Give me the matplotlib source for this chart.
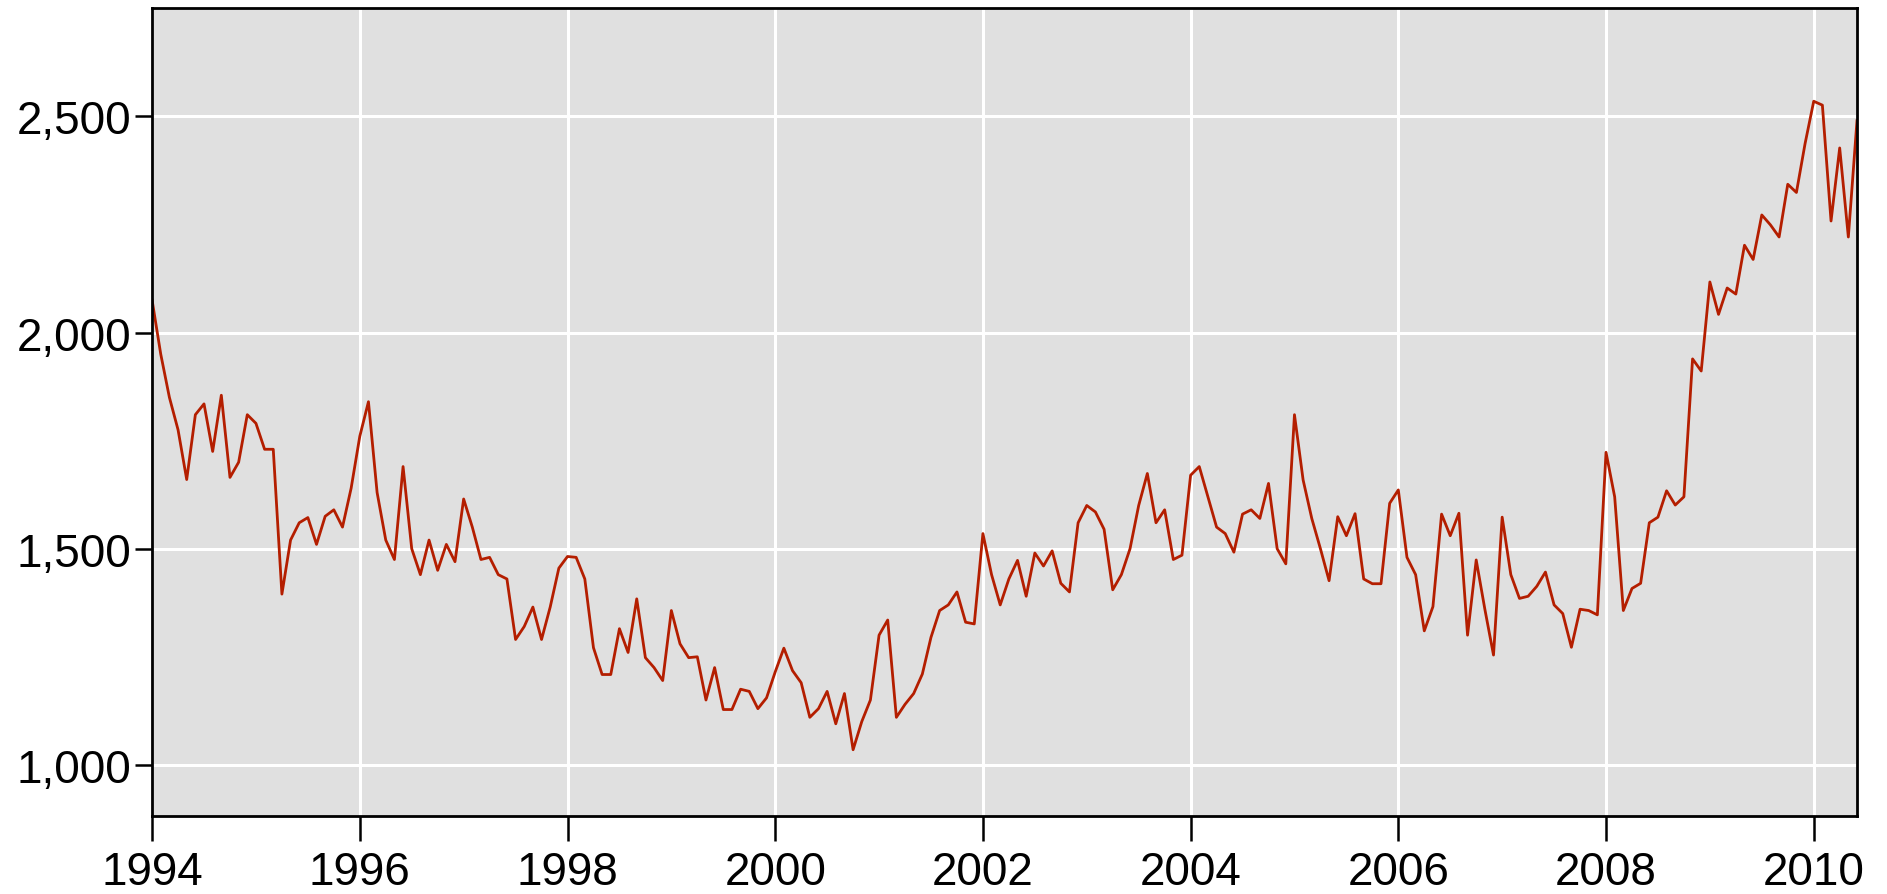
import numpy as np
import matplotlib
matplotlib.use("Agg")
import matplotlib.pyplot as plt
from matplotlib.ticker import StrMethodFormatter

# monthly series, Jan 1994 onwards
start_year = 1994
values = [
    2075, 1950, 1850, 1775, 1660, 1810, 1835, 1725, 1855, 1665, 1700, 1810,
    1790, 1730, 1730, 1395, 1520, 1560, 1572, 1510, 1575, 1590, 1550, 1640,
    1760, 1840, 1630, 1520, 1475, 1690, 1500, 1440, 1520, 1450, 1510, 1470,
    1615, 1550, 1475, 1480, 1440, 1430, 1290, 1320, 1365, 1290, 1365, 1455,
    1482, 1480, 1430, 1271, 1209, 1209, 1315, 1260, 1384, 1248, 1225, 1195,
    1357, 1280, 1248, 1250, 1150, 1225, 1128, 1128, 1175, 1170, 1130, 1155,
    1215, 1270, 1218, 1190, 1110, 1130, 1170, 1095, 1165, 1035, 1100, 1150,
    1300, 1335, 1110, 1140, 1165, 1210, 1295, 1357, 1370, 1400, 1330, 1326,
    1535, 1440, 1370, 1430, 1473, 1390, 1490, 1460, 1495, 1420, 1400, 1560,
    1600, 1585, 1545, 1405, 1440, 1500, 1600, 1674, 1560, 1590, 1475, 1485,
    1670, 1690, 1620, 1550, 1535, 1492, 1580, 1590, 1570, 1651, 1500, 1465,
    1810, 1659, 1570, 1500, 1426, 1574, 1530, 1581, 1430, 1419, 1419, 1605,
    1636, 1480, 1440, 1310, 1366, 1580, 1530, 1582, 1300, 1474, 1360, 1254,
    1573, 1440, 1385, 1390, 1413, 1446, 1370, 1350, 1272, 1360, 1357, 1347,
    1723, 1620, 1357, 1408, 1420, 1560, 1573, 1634, 1601, 1620, 1939, 1911,
    2117, 2042, 2103, 2089, 2202, 2169, 2272, 2249, 2221, 2343, 2324, 2437,
    2535, 2526, 2258, 2427, 2221, 2490,
]
year_ticks = [1994, 1996, 1998, 2000, 2002, 2004, 2006, 2008, 2010]
value_ticks = [1000, 1500, 2000, 2500]

x = start_year + np.arange(len(values)) / 12.0

plt.rcParams['font.family'] = ['Liberation Sans', 'DejaVu Sans']

fig = plt.figure(figsize=(18.87, 8.95), dpi=100)
ax = fig.add_axes([0.0806, 0.0868, 0.9035, 0.9028])
ax.set_facecolor('#e0e0e0')

ax.plot(x, values, color='#b41e00', linewidth=2.0)

ax.set_xlim(start_year, x[-1])
ax.set_ylim(881, 2750)
ax.set_xticks(year_ticks)
ax.set_yticks(value_ticks)
ax.yaxis.set_major_formatter(StrMethodFormatter('{x:,.0f}'))

ax.grid(True, color='white', linewidth=2.2)
ax.set_axisbelow(True)

for s in ax.spines.values():
    s.set_linewidth(2.0)
    s.set_color('black')

ax.tick_params(axis='x', length=18, width=1.8, labelsize=33, pad=6, colors='black')
ax.tick_params(axis='y', length=12, width=1.8, labelsize=33, pad=3, colors='black')

fig.savefig('out.png', dpi=100)
